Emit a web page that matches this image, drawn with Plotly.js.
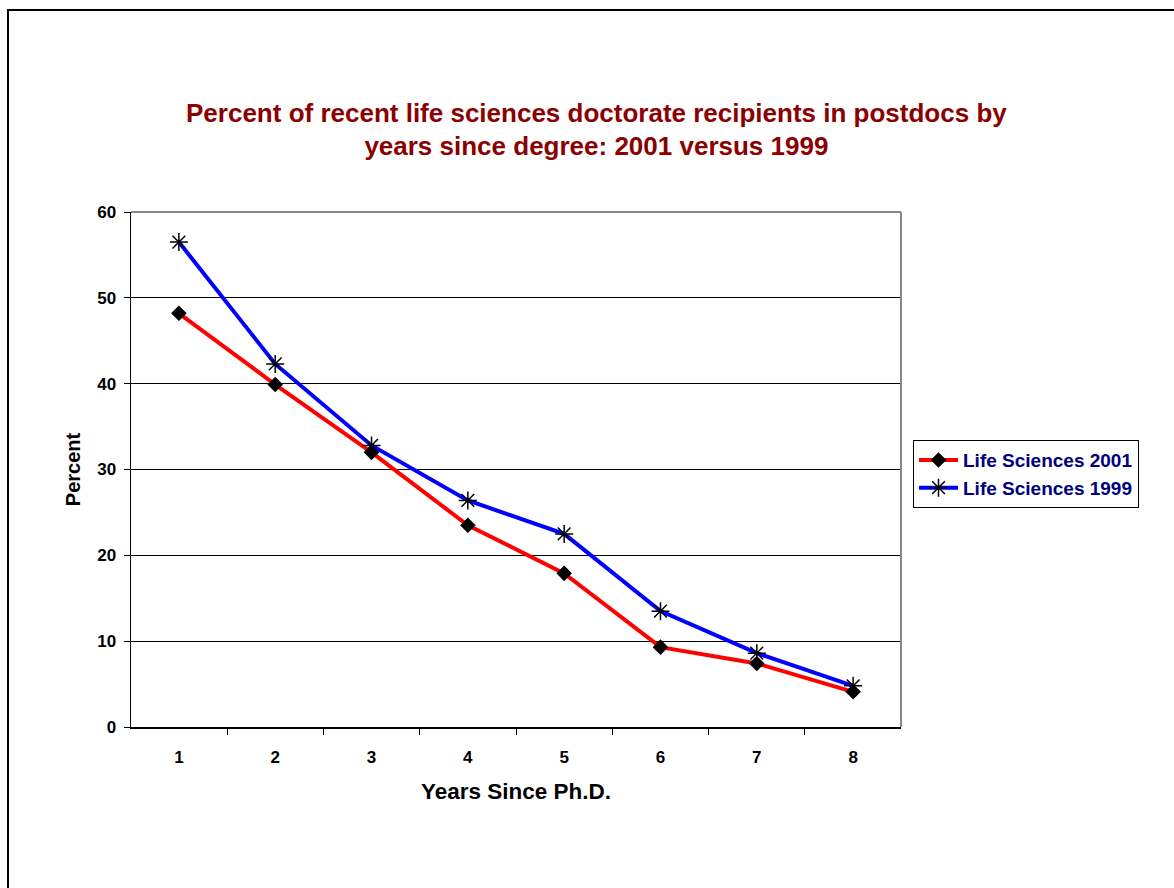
<!DOCTYPE html>
<html>
<head>
<meta charset="utf-8">
<script src="https://cdn.plot.ly/plotly-3.0.1.min.js"></script>
<style>
  html, body { margin: 0; padding: 0; background: #fff; }
  #wrap { position: relative; width: 1174px; height: 888px; overflow: hidden; }
  #frame { position: absolute; left: 7px; top: 9px; width: 1200px; height: 900px; border: 2px solid #000; box-sizing: border-box; pointer-events: none; }
  #chart { position: absolute; left: 0; top: 0; width: 1174px; height: 888px; }
</style>
</head>
<body>
<div id="wrap">
  <div id="chart"></div>
  <div id="frame"></div>
</div>
<script>
const years = ["1", "2", "3", "4", "5", "6", "7", "8"];
const lifeSciences2001 = [48.2, 39.9, 32.0, 23.5, 17.9, 9.3, 7.4, 4.1];
const lifeSciences1999 = [56.5, 42.3, 32.8, 26.4, 22.5, 13.5, 8.6, 4.8];
const yTicks = [0, 10, 20, 30, 40, 50, 60];

const FONT = "Arial, Liberation Sans, sans-serif";

const traces = [
  {
    x: years, y: lifeSciences2001, name: "Life Sciences 2001",
    type: "scatter", mode: "lines+markers",
    line: { color: "#ff0000", width: 4 },
    marker: { symbol: "diamond", size: 12, color: "#000000" }
  },
  {
    x: years, y: lifeSciences1999, name: "Life Sciences 1999",
    type: "scatter", mode: "lines+markers",
    line: { color: "#0000ff", width: 4 },
    marker: { symbol: "asterisk-open", size: 15, color: "#000000", line: { color: "#000000", width: 1.5 } }
  }
];

const layout = {
  width: 1174, height: 888,
  margin: { l: 131, r: 273, t: 212, b: 161 },
  paper_bgcolor: "rgba(0,0,0,0)",
  plot_bgcolor: "#ffffff",
  font: { family: FONT, color: "#000" },
  title: {
    text: "<b>Percent of recent life sciences doctorate recipients in postdocs by<br>years since degree: 2001 versus 1999</b>",
    font: { size: 26, color: "#8b0000", family: FONT },
    x: 0.508, xref: "container", xanchor: "center",
    y: 0.863, yref: "container", yanchor: "middle"
  },
  xaxis: {
    type: "category",
    tickson: "boundaries",
    ticks: "outside", ticklen: 6, tickcolor: "#000", tickwidth: 1,
    showline: true, linecolor: "#000", linewidth: 1.5,
    showgrid: false, zeroline: false,
    ticklabelstandoff: 14,
    tickfont: { size: 17, family: FONT, weight: "bold" },
    title: { text: "<b>Years Since Ph.D.</b>", font: { size: 22.5, family: FONT }, standoff: 17 }
  },
  yaxis: {
    range: [0, 60],
    tickvals: yTicks,
    ticks: "outside", ticklen: 6, tickcolor: "#000", tickwidth: 1,
    showline: true, linecolor: "#000", linewidth: 1.5,
    showgrid: true, gridcolor: "#000", gridwidth: 1,
    zeroline: false,
    ticklabelstandoff: 4,
    tickfont: { size: 17, family: FONT, weight: "bold" },
    title: { text: "<b>Percent</b>", font: { size: 20, family: FONT }, standoff: 11 }
  },
  shapes: [
    { type: "line", xref: "paper", yref: "paper", x0: 1, x1: 1, y0: 0, y1: 1, line: { color: "#888", width: 2 } },
    { type: "line", xref: "paper", yref: "paper", x0: 0, x1: 1, y0: 1, y1: 1, line: { color: "#888", width: 2 } }
  ],
  showlegend: true,
  legend: {
    x: 1.0156, y: 0.557, xanchor: "left", yanchor: "top",
    bordercolor: "#000", borderwidth: 1, bgcolor: "#fff",
    font: { size: 19, color: "#000080", family: FONT, weight: "bold" },
    tracegroupgap: 0, itemwidth: 39
  }
};

Plotly.newPlot("chart", traces, layout, { displayModeBar: false, staticPlot: true });
</script>
</body>
</html>
